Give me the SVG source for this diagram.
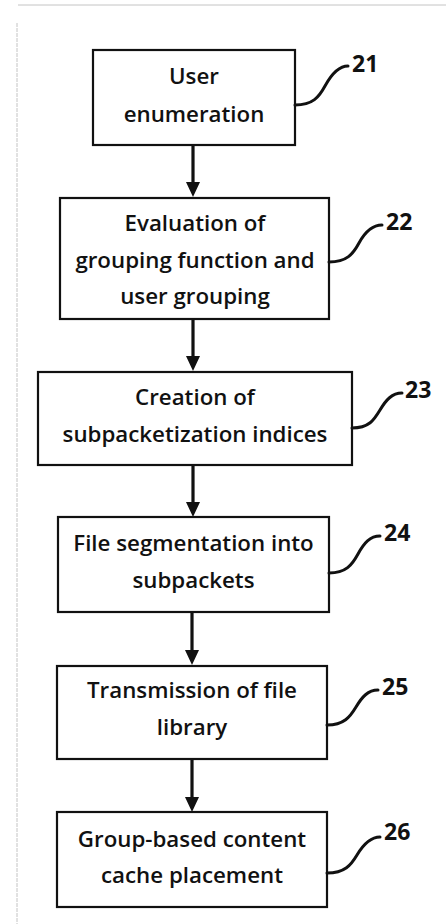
<svg xmlns="http://www.w3.org/2000/svg" width="446" height="924" viewBox="0 0 446 924">
<style>
.box{fill:#fff;stroke:#111;stroke-width:2.2}
.t{font-family:"Open Sans","Liberation Sans",sans-serif;font-size:22.3px;font-weight:600;fill:#111;text-anchor:middle}
.n{font-family:"Open Sans","Liberation Sans",sans-serif;font-size:23px;font-weight:bold;fill:#111}
.lead{fill:none;stroke:#111;stroke-width:3;stroke-linecap:round}
.arr{stroke:#111;stroke-width:3.2}
.frame{stroke:#c4c4c4;stroke-width:1;fill:none}
</style>
<g id="frame">
<line class="frame" x1="18" y1="5" x2="446" y2="5"/>
<line class="frame" x1="17" y1="23" x2="17" y2="924" stroke-dasharray="4 1"/>
</g>
<g id="connectors">
<line class="arr" x1="193" y1="145" x2="193" y2="184"/>
<path d="M186,182 L200,182 L193,197 Z" fill="#111"/>
<line class="arr" x1="193" y1="319" x2="193" y2="358"/>
<path d="M186,356 L200,356 L193,371 Z" fill="#111"/>
<line class="arr" x1="193" y1="465" x2="193" y2="504"/>
<path d="M186,502 L200,502 L193,517 Z" fill="#111"/>
<line class="arr" x1="192" y1="612" x2="192" y2="652"/>
<path d="M185,650 L199,650 L192,665 Z" fill="#111"/>
<line class="arr" x1="192" y1="759" x2="192" y2="799"/>
<path d="M185,797 L199,797 L192,812 Z" fill="#111"/>
</g>
<g id="n21">
<rect class="box" x="93" y="50" width="202" height="95"/>
<text class="t" x="194" y="84">User</text>
<text class="t" x="194" y="122">enumeration</text>
<path class="lead" d="M295,105 c18,0 24,-8 30,-19 s13,-20 23,-20"/>
<text class="n" x="352" y="72">21</text>
</g>
<g id="n22">
<rect class="box" x="60" y="198" width="269" height="121"/>
<text class="t" x="195" y="231">Evaluation of</text>
<text class="t" x="195" y="268">grouping function and</text>
<text class="t" x="195" y="304">user grouping</text>
<path class="lead" d="M329,262 c18,0 24,-8 30,-19 s13,-18 23,-18"/>
<text class="n" x="386" y="230">22</text>
</g>
<g id="n23">
<rect class="box" x="38" y="372" width="314" height="93"/>
<text class="t" x="195" y="405">Creation of</text>
<text class="t" x="195" y="442">subpacketization indices</text>
<path class="lead" d="M352,428 c17,0 22,-8 28,-18 s12,-17 22,-17"/>
<text class="n" x="405" y="398">23</text>
</g>
<g id="n24">
<rect class="box" x="58" y="517" width="271" height="95"/>
<text class="t" x="193.5" y="551">File segmentation into</text>
<text class="t" x="193.5" y="588">subpackets</text>
<path class="lead" d="M329,573 c17,0 23,-8 29,-19 s12,-18 22,-18"/>
<text class="n" x="384" y="541">24</text>
</g>
<g id="n25">
<rect class="box" x="57" y="666" width="270" height="93"/>
<text class="t" x="192" y="698">Transmission of file</text>
<text class="t" x="192" y="735">library</text>
<path class="lead" d="M327,725 c17,0 23,-8 29,-18 s12,-17 22,-17"/>
<text class="n" x="382" y="695">25</text>
</g>
<g id="n26">
<rect class="box" x="57" y="812" width="270" height="95"/>
<text class="t" x="192" y="847">Group-based content</text>
<text class="t" x="192" y="883">cache placement</text>
<path class="lead" d="M327,873 c18,0 24,-8 30,-18 s13,-18 23,-18"/>
<text class="n" x="384" y="840">26</text>
</g>
</svg>
